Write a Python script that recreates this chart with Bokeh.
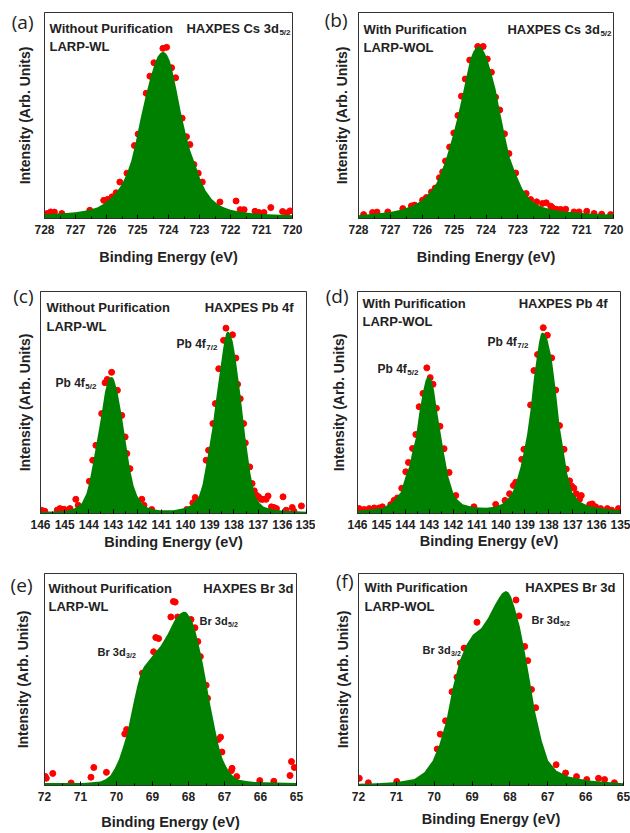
from bokeh.plotting import figure
from bokeh.layouts import column, row
from bokeh.models import Range1d, FixedTicker, Label
from bokeh.embed import file_html
from bokeh.resources import INLINE

FONT = "Liberation Sans"
TAG_FONT = "Open Sans"
GREEN = "#008000"
RED = "#ff0000"

# ---------------- tick values ----------------
cs_ticks = [720, 721, 722, 723, 724, 725, 726, 727, 728]
pb_ticks = [135, 136, 137, 138, 139, 140, 141, 142, 143, 144, 145, 146]
br_ticks = [65, 66, 67, 68, 69, 70, 71, 72]

# ---------------- (a) Cs 3d5/2, without purification ----------------
cs_wl_fit_ev = [728.0, 727.5, 727.0, 726.6, 726.3, 726.1, 725.9, 725.7, 725.5, 725.35, 725.2,
                725.05, 724.9, 724.75, 724.6, 724.45, 724.35, 724.26, 724.18, 724.11, 724.05,
                723.97, 723.9, 723.75, 723.6, 723.45, 723.3, 723.13, 722.96, 722.8, 722.6,
                722.4, 722.2, 722.0, 721.7, 721.3, 720.8, 720.4, 720.0]
cs_wl_fit_int = [2.1, 2.4, 3.0, 4.0, 5.4, 7.0, 9.3, 12.3, 16.8, 21.5, 28.0,
                 37.5, 48.5, 58.5, 67.5, 75.0, 78.6, 80.4, 80.9, 80.5, 79.5,
                 77.0, 73.5, 63.0, 51.5, 41.5, 33.0, 26.0, 18.5, 13.5, 9.3,
                 6.8, 5.3, 4.3, 3.3, 2.6, 2.1, 1.8, 1.6]
cs_wl_pts_ev = [727.92, 727.80, 727.68, 727.44, 726.54, 726.09, 725.96, 725.82, 725.69, 725.57,
                725.34, 725.10, 724.98, 724.72, 724.60, 724.47, 724.18, 724.06, 723.90, 723.77,
                723.56, 723.42, 723.31, 723.18, 723.04, 722.91, 722.34, 721.82, 721.69, 721.56,
                721.21, 721.08, 720.92, 720.70, 720.32, 720.18, 720.08]
cs_wl_pts_int = [2.4, 3.2, 3.1, 2.4, 4.0, 8.8, 9.3, 10.5, 12.5, 17.7,
                 22.0, 35.4, 41.0, 60.8, 69.1, 75.6, 82.6, 83.1, 73.2, 68.3,
                 48.7, 39.7, 35.9, 26.2, 22.0, 17.7, 8.0, 8.5, 4.3, 4.3,
                 3.5, 2.9, 2.9, 5.3, 3.4, 2.7, 3.7]

# ---------------- (b) Cs 3d5/2, with purification ----------------
cs_wol_fit_ev = [728.0, 727.5, 727.0, 726.64, 726.3, 726.0, 725.75, 725.6, 725.46, 725.27, 725.14,
                 725.01, 724.88, 724.75, 724.62, 724.49, 724.4, 724.31, 724.23, 724.16, 724.1,
                 724.03, 723.96, 723.84, 723.70, 723.57, 723.42, 723.26, 723.07, 722.86, 722.6,
                 722.4, 722.23, 721.9, 721.61, 721.2, 720.77, 720.4, 720.0]
cs_wol_fit_int = [1.6, 2.3, 3.2, 4.4, 6.2, 8.9, 12.9, 15.8, 20.2, 28.2, 34.7,
                  41.9, 50.0, 58.9, 68.5, 77.4, 81.0, 83.0, 83.5, 83.2, 82.0,
                  80.0, 77.4, 71.0, 62.9, 52.4, 41.1, 29.8, 21.8, 14.5, 8.9,
                  6.8, 5.6, 4.3, 3.5, 2.9, 2.4, 2.1, 1.9]
cs_wol_pts_ev = [727.84, 727.56, 727.42, 727.08, 726.61, 726.34, 726.24, 725.99, 725.87, 725.71,
                 725.59, 725.46, 725.36, 725.27, 725.14, 725.01, 724.88, 724.77, 724.65, 724.51,
                 724.26, 724.09, 723.96, 723.83, 723.70, 723.57, 723.42, 723.28, 723.07, 722.74,
                 722.60, 722.41, 722.23, 722.11, 721.97, 721.92, 721.79, 721.66, 721.50, 721.24,
                 721.08, 720.84, 720.61, 720.37, 720.09]
cs_wol_pts_int = [1.9, 2.9, 3.1, 3.2, 4.8, 6.1, 6.5, 8.9, 10.2, 12.9,
                  14.8, 19.8, 22.6, 27.9, 34.7, 41.5, 50.0, 59.4, 67.7, 76.9,
                  83.5, 83.5, 77.4, 71.0, 58.9, 52.7, 41.1, 31.5, 22.1, 12.1,
                  9.2, 8.1, 7.3, 7.6, 6.0, 5.3, 4.5, 4.4, 4.5, 3.2,
                  3.2, 3.5, 2.4, 2.1, 1.9]

# ---------------- (c) Pb 4f, without purification ----------------
pb_wl_fit_ev = [146.0, 145.5, 144.92, 144.6, 144.3, 144.1, 143.98, 143.84, 143.71, 143.58, 143.47,
                143.33, 143.2, 143.12, 143.06, 143.0, 142.95, 142.82, 142.64, 142.5, 142.3,
                142.15, 142.0, 141.8, 141.6, 141.3, 141.05, 140.5, 140.02, 139.8, 139.6,
                139.45, 139.3, 139.15, 139.05, 138.87, 138.77, 138.63, 138.45, 138.38, 138.32,
                138.26, 138.2, 138.14, 138.05, 137.94, 137.74, 137.53, 137.32, 137.2, 137.11,
                136.95, 136.77, 136.4, 135.94, 135.0]
pb_wl_fit_int = [0.75, 0.9, 1.2, 2.2, 4.5, 9.0, 14.0, 22.0, 30.0, 38.0, 45.0,
                 55.0, 60.2, 61.3, 61.5, 61.2, 60.0, 55.0, 44.0, 34.0, 20.0,
                 12.5, 8.0, 4.5, 2.8, 1.8, 1.5, 1.5, 2.5, 3.6, 5.5,
                 7.8, 13.0, 22.0, 28.0, 40.0, 49.0, 60.0, 74.0, 78.5, 81.2,
                 82.0, 81.6, 80.3, 77.5, 70.5, 54.0, 34.5, 18.0, 11.5, 7.5,
                 4.8, 3.0, 1.8, 1.2, 0.75]
pb_wl_pts_ev = [145.96, 145.82, 145.31, 145.20, 145.13, 145.02, 144.78, 144.54, 144.44, 143.98,
                143.84, 143.71, 143.47, 143.33, 143.24, 143.06, 142.82, 142.64, 142.50, 142.43,
                142.30, 141.81, 141.72, 141.40, 139.95, 139.70, 139.60, 139.15, 139.05, 138.87,
                138.77, 138.63, 138.43, 138.33, 138.06, 137.92, 137.85, 137.74, 137.60, 137.53,
                137.35, 137.25, 137.16, 137.07, 136.98, 136.88, 136.80, 136.67, 136.59, 136.45,
                136.35, 136.24, 135.97, 135.84, 135.59, 135.52, 135.21]
pb_wl_pts_int = [1.5, 1.0, 1.5, 2.2, 1.9, 1.9, 2.2, 6.4, 3.7, 14.5,
                 24.0, 30.7, 45.0, 58.9, 60.4, 63.6, 55.5, 44.2, 34.5, 27.0,
                 20.2, 6.4, 3.7, 1.8, 1.8, 4.8, 7.2, 24.0, 28.5, 40.5,
                 49.5, 65.2, 78.0, 83.5, 80.5, 70.0, 58.2, 51.7, 40.5, 31.8,
                 21.0, 13.5, 10.2, 8.2, 7.5, 6.4, 6.4, 6.4, 7.9, 3.0,
                 2.7, 2.2, 7.5, 1.5, 2.7, 1.0, 3.4]

# ---------------- (d) Pb 4f, with purification ----------------
pb_wol_fit_ev = [146.0, 145.5, 144.96, 144.54, 144.19, 143.98, 143.84, 143.7, 143.56, 143.42, 143.26,
                 143.15, 143.08, 143.0, 142.93, 142.80, 142.70, 142.55, 142.38, 142.2, 142.0,
                 141.89, 141.6, 141.13, 140.6, 140.2, 139.94, 139.7, 139.52, 139.38, 139.18,
                 139.04, 138.9, 138.76, 138.62, 138.48, 138.4, 138.33, 138.27, 138.2, 138.13,
                 138.06, 137.88, 137.71, 137.55, 137.36, 137.23, 137.02, 136.74, 136.4, 136.18,
                 135.48, 135.0]
pb_wol_fit_int = [1.2, 1.8, 2.5, 4.9, 9.6, 17.0, 21.0, 28.0, 34.0, 45.0, 55.0,
                  60.0, 61.5, 61.4, 60.7, 55.6, 48.0, 38.0, 27.0, 16.5, 9.5,
                  7.0, 4.2, 2.8, 2.6, 3.2, 4.4, 6.8, 9.5, 13.5, 21.0,
                  28.0, 36.0, 47.0, 61.0, 72.0, 77.5, 80.8, 81.5, 81.2, 80.2,
                  78.5, 70.0, 55.6, 39.6, 27.0, 18.0, 9.6, 5.5, 3.7, 3.0,
                  1.9, 1.5]
pb_wol_pts_ev = [145.93, 145.72, 145.51, 145.30, 145.09, 144.96, 144.61, 144.47, 144.33, 144.15,
                 143.98, 143.87, 143.70, 143.56, 143.42, 143.26, 143.10, 142.96, 142.84, 142.70,
                 142.55, 142.38, 142.17, 141.89, 141.13, 140.22, 139.83, 139.64, 139.48, 139.38,
                 139.13, 139.04, 138.76, 138.62, 138.47, 138.23, 138.06, 137.88, 137.71, 137.55,
                 137.36, 137.27, 137.13, 137.04, 136.95, 136.85, 136.71, 136.64, 136.29, 136.18,
                 136.04, 135.83, 135.55, 135.37, 135.09]
pb_wol_pts_int = [2.2, 1.8, 2.2, 2.5, 2.5, 3.0, 4.0, 5.9, 7.0, 11.4,
                  18.8, 23.0, 29.3, 35.6, 48.1, 54.1, 65.6, 61.2, 58.2, 47.4,
                  39.3, 29.2, 18.5, 8.1, 3.0, 4.1, 5.9, 8.9, 12.6, 14.1,
                  24.4, 28.9, 48.9, 64.4, 71.6, 83.7, 80.3, 70.1, 55.6, 39.6,
                  28.9, 20.0, 14.7, 12.3, 11.4, 8.9, 6.4, 8.1, 4.0, 4.3,
                  3.0, 2.2, 2.2, 1.5, 2.2]

# ---------------- (e) Br 3d, without purification ----------------
br_wl_fit_ev = [72.0, 70.91, 70.45, 70.3, 70.17, 70.05, 69.93, 69.82, 69.70, 69.6, 69.51,
                69.42, 69.33, 69.24, 69.14, 68.96, 68.77, 68.58, 68.40, 68.3, 68.22,
                68.14, 68.07, 68.02, 67.95, 67.88, 67.81, 67.74, 67.67, 67.60, 67.53,
                67.47, 67.4, 67.33, 67.26, 67.19, 67.12, 67.05, 66.95, 66.86, 66.75,
                66.63, 66.4, 66.16, 65.0]
br_wl_fit_int = [1.2, 1.2, 1.9, 3.0, 4.7, 8.0, 12.4, 18.0, 24.8, 33.0, 40.3,
                 47.0, 52.7, 56.0, 58.1, 62.0, 65.9, 71.3, 77.5, 79.8, 81.3,
                 82.0, 81.8, 80.9, 79.0, 76.7, 73.0, 68.2, 63.0, 57.4, 51.0,
                 45.0, 38.5, 32.6, 26.5, 20.9, 16.0, 12.4, 8.8, 6.2, 4.2,
                 2.8, 2.1, 1.6, 1.2]
br_wl_pts_ev = [71.98, 71.95, 71.77, 71.26, 70.71, 70.63, 70.28, 69.77, 69.72, 69.28,
                68.97, 68.91, 68.83, 68.49, 68.42, 68.37, 68.30, 67.93, 67.82, 67.74,
                67.67, 67.51, 67.47, 67.17, 67.11, 67.07, 66.81, 66.79, 66.66, 66.02,
                65.63, 65.18, 65.14, 65.06]
br_wl_pts_int = [4.3, 3.4, 5.7, 1.2, 3.9, 8.5, 6.2, 24.3, 26.4, 53.0,
                 63.1, 69.8, 69.3, 79.5, 86.8, 86.5, 79.5, 78.3, 74.4, 67.9,
                 60.8, 47.3, 41.1, 21.7, 22.8, 15.8, 7.0, 8.1, 4.2, 2.3,
                 2.0, 4.7, 11.3, 8.5]

# ---------------- (f) Br 3d, with purification ----------------
br_wol_fit_ev = [72.0, 71.5, 70.97, 70.52, 70.26, 70.04, 69.86, 69.68, 69.51, 69.33, 69.15,
                 68.98, 68.76, 68.58, 68.40, 68.28, 68.2, 68.11, 68.04, 67.97, 67.87,
                 67.74, 67.61, 67.47, 67.34, 67.16, 66.99, 66.77, 66.46, 65.93, 65.0]
br_wol_fit_int = [0.8, 1.1, 1.6, 3.1, 6.3, 11.7, 19.5, 30.5, 46.1, 58.6, 66.4,
                  71.1, 74.2, 78.9, 85.2, 88.8, 90.8, 91.7, 91.2, 89.0, 83.6,
                  75.0, 63.3, 49.2, 35.2, 21.1, 11.7, 7.0, 4.2, 2.3, 1.1]
br_wol_pts_ev = [71.98, 71.74, 70.99, 69.92, 69.84, 69.70, 69.53, 69.40, 69.31, 69.21,
                 68.87, 67.84, 67.76, 67.61, 67.53, 67.43, 67.32, 66.78, 66.53, 66.24,
                 65.97, 65.66, 65.50, 65.24]
br_wol_pts_int = [3.4, 1.3, 1.9, 17.2, 24.2, 30.5, 44.2, 51.1, 57.8, 64.8,
                  77.0, 87.5, 80.0, 65.6, 58.9, 45.3, 36.7, 9.8, 5.9, 4.2,
                  2.8, 3.4, 2.8, 1.3]

# Arial / Liberation Sans Bold advance widths (per em) for laying out subscripts
BOLD_W = {" ": 0.278, "3": 0.556, "4": 0.556, "A": 0.722, "B": 0.722, "C": 0.722,
          "E": 0.667, "H": 0.722, "P": 0.667, "S": 0.667, "X": 0.667, "b": 0.611,
          "d": 0.611, "f": 0.333, "r": 0.389, "s": 0.556, "5": 0.556, "/": 0.278,
          "2": 0.556, "7": 0.556}
# Open Sans regular advance widths (per em) for the panel letters
TAG_W = {"(": 0.296, ")": 0.296, "a": 0.556, "b": 0.613, "c": 0.480, "d": 0.613,
         "e": 0.561, "f": 0.336}

HEAD = 13      # header texts inside each frame
TAG_SIZE = 19  # panel letters


def text_width(s, size, table=BOLD_W):
    return sum(table.get(c, 0.6) for c in s) * size


def make_panel(w, h, border, xr, ticks, fit_ev, fit_int, pts_ev, pts_int,
               ytitle_off, xlab_standoff, tag, tag_gap, tag_dy, y_top=100):
    """One spectrum panel. The panel letter is the single tick label of the
    left axis; the axis title is pulled back in beside it."""
    left, right, top, bottom = border
    fh = h - top - bottom
    p = figure(width=w, height=h, x_range=Range1d(*xr), y_range=Range1d(0, y_top),
               output_backend="svg", toolbar_location=None,
               min_border_left=left, min_border_right=right,
               min_border_top=top, min_border_bottom=bottom)
    p.background_fill_color = "white"
    p.border_fill_color = "white"
    p.xgrid.grid_line_color = None
    p.ygrid.grid_line_color = None
    p.outline_line_color = "#333333"
    p.outline_line_width = 1

    # measured points first, fitted envelope on top
    p.scatter(pts_ev, pts_int, size=6, fill_color=RED, line_color=RED)
    p.varea(x=fit_ev, y1=0, y2=fit_int, fill_color=GREEN)

    minor = [t + 0.5 for t in ticks[:-1]]
    p.xaxis.ticker = FixedTicker(ticks=ticks, minor_ticks=minor)
    p.xaxis.axis_label = "Binding Energy (eV)"
    p.xaxis.axis_label_text_font = FONT
    p.xaxis.axis_label_text_font_style = "bold"
    p.xaxis.axis_label_text_font_size = "14.5px"
    p.xaxis.axis_label_text_color = "#222222"
    p.xaxis.axis_label_standoff = xlab_standoff
    p.xaxis.major_label_text_font = FONT
    p.xaxis.major_label_text_font_style = "bold"
    p.xaxis.major_label_text_font_size = "12px"
    p.xaxis.major_label_text_color = "#222222"
    p.xaxis.major_label_standoff = 6
    p.xaxis.major_tick_in = 4
    p.xaxis.major_tick_out = 0
    p.xaxis.minor_tick_in = 2
    p.xaxis.minor_tick_out = 0
    p.xaxis.axis_line_color = "#333333"

    tag_y = round(y_top * (1 - tag_dy / fh), 3)
    tag_w = text_width(tag, TAG_SIZE, TAG_W)
    p.yaxis.ticker = FixedTicker(ticks=[tag_y])
    p.yaxis.major_label_overrides = {tag_y: tag}
    p.yaxis.major_label_text_font = TAG_FONT
    p.yaxis.major_label_text_font_size = f"{TAG_SIZE}px"
    p.yaxis.major_label_text_color = "#222222"
    p.yaxis.major_label_standoff = tag_gap
    p.yaxis.major_tick_in = 0
    p.yaxis.major_tick_out = 0
    p.yaxis.minor_tick_in = 0
    p.yaxis.minor_tick_out = 0
    p.yaxis.axis_label = "Intensity (Arb. Units)"
    p.yaxis.axis_label_text_font = FONT
    p.yaxis.axis_label_text_font_style = "bold"
    p.yaxis.axis_label_text_font_size = "14px"
    p.yaxis.axis_label_text_color = "#222222"
    p.yaxis.axis_label_standoff = int(round(ytitle_off - 8.5 - tag_gap - tag_w))
    p.yaxis.axis_line_color = "#333333"

    return p, fh


def add_text(p, fh, dx, dy, text, size=HEAD, align="left"):
    p.add_layout(Label(x=dx, y=fh - dy, x_units="screen", y_units="screen",
                       text=text, text_font=FONT, text_font_style="bold",
                       text_font_size=f"{size}px", text_color="#222222",
                       text_align=align, text_baseline="alphabetic"))


def add_sub_text(p, fh, dx, dy, main, sub, size=HEAD, sub_size=8, align="left"):
    sub_w = text_width(sub, sub_size)
    if align == "left":
        x_main = dx
        x_sub = dx + text_width(main, size) + 0.5
    else:
        x_sub = dx - sub_w
        x_main = x_sub - 0.5 - text_width(main, size)
    add_text(p, fh, x_main, dy, main, size)
    add_text(p, fh, x_sub, dy + 4, sub, sub_size)


# (a)
pa, fa = make_panel(315, 280, (44, 23, 12, 62), (728, 720), cs_ticks,
                    cs_wl_fit_ev, cs_wl_fit_int, cs_wl_pts_ev, cs_wl_pts_int,
                    17, 12, "(a)", 11, 9)
add_text(pa, fa, 5, 16, "Without Purification")
add_text(pa, fa, 5, 34, "LARP-WL")
add_sub_text(pa, fa, 246, 16, "HAXPES Cs 3d", "5/2", align="right")

# (b)
pb, fb = make_panel(315, 280, (43, 17, 12, 62), (728, 720), cs_ticks,
                    cs_wol_fit_ev, cs_wol_fit_int, cs_wol_pts_ev, cs_wol_pts_int,
                    14, 12, "(b)", 11, 8)
add_text(pb, fb, 5, 17, "With Purification")
add_text(pb, fb, 5, 35, "LARP-WOL")
add_sub_text(pb, fb, 253, 17, "HAXPES Cs 3d", "5/2", align="right")

# (c)
pc, fc = make_panel(315, 275, (40, 9, 11, 42), (146, 135), pb_ticks,
                    pb_wl_fit_ev, pb_wl_fit_int, pb_wl_pts_ev, pb_wl_pts_int,
                    13, 2, "(c)", 7, 5)
add_text(pc, fc, 6, 16, "Without Purification")
add_text(pc, fc, 6, 35, "LARP-WL")
add_text(pc, fc, 253, 16, "HAXPES Pb 4f", align="right")
add_sub_text(pc, fc, 15, 91, "Pb 4f", "5/2", size=12)
add_sub_text(pc, fc, 136, 52, "Pb 4f", "7/2", size=12)

# (d)
pd_, fd = make_panel(315, 275, (42, 10, 10, 40), (146, 135), pb_ticks,
                     pb_wol_fit_ev, pb_wol_fit_int, pb_wol_pts_ev, pb_wol_pts_int,
                     16, 1, "(d)", 9, 5)
add_text(pd_, fd, 5, 15, "With Purification")
add_text(pd_, fd, 5, 33, "LARP-WOL")
add_text(pd_, fd, 250, 15, "HAXPES Pb 4f", align="right")
add_sub_text(pd_, fd, 20, 80, "Pb 4f", "5/2", size=12)
add_sub_text(pd_, fd, 130, 53, "Pb 4f", "7/2", size=12)

# (e)
pe, fe = make_panel(315, 278, (44, 19, 15, 48), (72, 65), br_ticks,
                    br_wl_fit_ev, br_wl_fit_int, br_wl_pts_ev, br_wl_pts_int,
                    19, 10, "(e)", 12, 12)
add_text(pe, fe, 4, 18, "Without Purification")
add_text(pe, fe, 4, 36, "LARP-WL")
add_text(pe, fe, 249, 18, "HAXPES Br 3d", align="right")
add_sub_text(pe, fe, 53, 81, "Br 3d", "3/2", size=11, sub_size=7)
add_sub_text(pe, fe, 155, 50, "Br 3d", "5/2", size=11, sub_size=7)

# (f)
pf, ff = make_panel(315, 278, (43, 7, 18, 46), (72, 65), br_ticks,
                    br_wol_fit_ev, br_wol_fit_int, br_wol_pts_ev, br_wol_pts_int,
                    13, 7, "(f)", 5, 8)
add_text(pf, ff, 6, 16, "With Purification")
add_text(pf, ff, 6, 35, "LARP-WOL")
add_text(pf, ff, 257, 16, "HAXPES Br 3d", align="right")
add_sub_text(pf, ff, 64, 78, "Br 3d", "3/2", size=11, sub_size=7)
add_sub_text(pf, ff, 173, 48, "Br 3d", "5/2", size=11, sub_size=7)

layout = column(row(pa, pb), row(pc, pd_), row(pe, pf))

with open("out.html", "w") as f:
    f.write(file_html(layout, INLINE, title="HAXPES spectra"))
